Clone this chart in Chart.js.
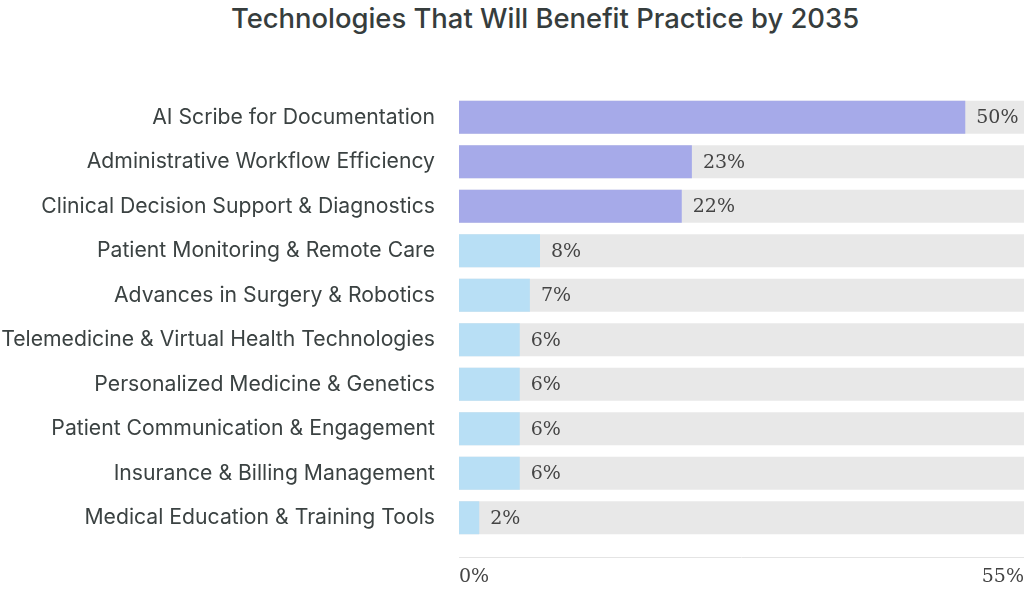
<!DOCTYPE html>
<html>
<head>
<meta charset="utf-8">
<script src="https://cdn.jsdelivr.net/npm/chart.js@4.4.1/dist/chart.umd.min.js"></script>
<style>
  html, body { margin: 0; padding: 0; background: #ffffff; }
  #wrap { position: relative; width: 1024px; height: 590px; }
  #title {
    position: absolute; left: 66px; top: 1px; width: 958px;
    text-align: center; font-family: Inter, sans-serif; font-weight: 500;
    font-size: 27.4px; color: #363d3d;
  }
  canvas { position: absolute; left: 0; top: 0; }
</style>
</head>
<body>
<div id="wrap">
  <div id="title">Technologies That Will Benefit Practice by 2035</div>
  <canvas id="c" width="1024" height="590"></canvas>
</div>
<script>
const categories = [
  "AI Scribe for Documentation",
  "Administrative Workflow Efficiency",
  "Clinical Decision Support & Diagnostics",
  "Patient Monitoring & Remote Care",
  "Advances in Surgery & Robotics",
  "Telemedicine & Virtual Health Technologies",
  "Personalized Medicine & Genetics",
  "Patient Communication & Engagement",
  "Insurance & Billing Management",
  "Medical Education & Training Tools"
];
const values = [50, 23, 22, 8, 7, 6, 6, 6, 6, 2];
const trackValues = [55.8, 55.8, 55.8, 55.8, 55.8, 55.8, 55.8, 55.8, 55.8, 55.8];
const tickValues = [0, 55.8];
const tickLabels = ["0%", "55%"];

const purple = "#a6aae9";
const blue = "#b8dff5";
const barColors = values.map((v, i) => i < 3 ? purple : blue);

const valueLabelPlugin = {
  id: "valueLabels",
  afterDatasetsDraw(chart) {
    const meta = chart.getDatasetMeta(0);
    const ctx = chart.ctx;
    ctx.save();
    ctx.font = "19px 'DejaVu Serif', serif";
    ctx.fillStyle = "#444444";
    ctx.textAlign = "left";
    ctx.textBaseline = "middle";
    meta.data.forEach((bar, i) => {
      ctx.fillText(values[i] + "%", bar.x + 11, bar.y + 1);
    });
    ctx.restore();
  }
};

const baselinePlugin = {
  id: "baseline",
  afterDraw(chart) {
    const a = chart.chartArea;
    const ctx = chart.ctx;
    ctx.save();
    ctx.strokeStyle = "#e4e4e4";
    ctx.lineWidth = 1;
    ctx.beginPath();
    ctx.moveTo(a.left, a.bottom + 17.5);
    ctx.lineTo(a.right, a.bottom + 17.5);
    ctx.stroke();
    ctx.restore();
  }
};

new Chart(document.getElementById("c"), {
  type: "bar",
  data: {
    labels: categories,
    datasets: [
      {
        data: values,
        backgroundColor: barColors,
        order: 1,
        barPercentage: 0.74,
        categoryPercentage: 1
      },
      {
        data: trackValues,
        backgroundColor: "#e8e8e8",
        order: 2,
        barPercentage: 0.74,
        categoryPercentage: 1
      }
    ]
  },
  options: {
    indexAxis: "y",
    responsive: false,
    animation: false,
    layout: { padding: { top: 95, right: 0, bottom: 0, left: 0 } },
    plugins: {
      legend: { display: false },
      tooltip: { enabled: false },
      title: { display: false }
    },
    datasets: { bar: { grouped: false } },
    scales: {
      x: {
        min: 0,
        max: 55.8,
        grid: { display: false, drawTicks: false },
        border: { display: false },
        afterBuildTicks(scale) {
          scale.ticks = tickValues.map(v => ({ value: v }));
        },
        afterFit(scale) {
          scale.paddingLeft = 0;
          scale.paddingRight = 0;
          scale.height = 50;
        },
        ticks: {
          align: "inner",
          padding: 26,
          color: "#444444",
          font: { family: "'DejaVu Serif', serif", size: 19 },
          callback: (v, i) => tickLabels[i]
        }
      },
      y: {
        grid: { display: false, drawTicks: false },
        border: { display: false },
        afterFit(scale) { scale.width = 459; },
        ticks: {
          padding: 24,
          color: "#3b4242",
          font: { family: "Inter, sans-serif", size: 21.2 }
        }
      }
    }
  },
  plugins: [valueLabelPlugin, baselinePlugin]
});
</script>
</body>
</html>
